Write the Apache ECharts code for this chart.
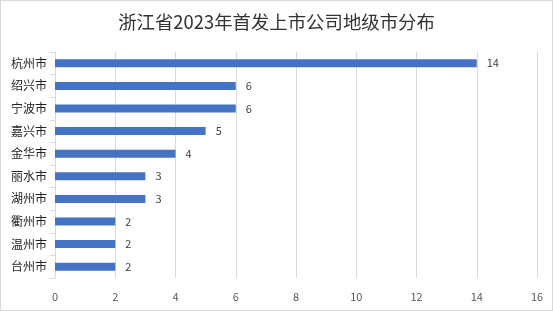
<!DOCTYPE html>
<html>
<head>
<meta charset="utf-8">
<script src="https://cdn.jsdelivr.net/npm/echarts@6/dist/echarts.min.js"></script>
<style>
  html, body { margin: 0; padding: 0; background: #fff; }
  #chart { width: 551px; height: 309px; border: 1px solid #d9d9d9; }
</style>
</head>
<body>
<div id="chart"></div>
<script>
var cities = ['杭州市', '绍兴市', '宁波市', '嘉兴市', '金华市', '丽水市', '湖州市', '衢州市', '温州市', '台州市'];
var counts = [14, 6, 6, 5, 4, 3, 3, 2, 2, 2];
var xTicks = [0, 16, 2]; // min, max, interval

var chart = echarts.init(document.getElementById('chart'));
chart.setOption({
    animation: false,
    textStyle: { fontFamily: 'Noto Sans CJK SC' },
    title: {
        text: '浙江省2023年首发上市公司地级市分布',
        left: 'center',
        top: 7,
        textStyle: { fontSize: 18.4, fontWeight: 'normal', color: '#333', fontFamily: 'Noto Sans CJK SC' }
    },
    grid: { left: 54, right: 15, top: 51, bottom: 32, containLabel: false },
    xAxis: {
        type: 'value',
        min: xTicks[0],
        max: xTicks[1],
        interval: xTicks[2],
        axisLine: { show: false },
        axisTick: { show: false },
        axisLabel: { color: '#595959', fontSize: 11, margin: 13, fontFamily: 'Noto Sans CJK SC' },
        splitLine: { lineStyle: { color: '#d9d9d9', width: 1 } }
    },
    yAxis: {
        type: 'category',
        inverse: true,
        data: cities,
        axisLine: { lineStyle: { color: '#d9d9d9' } },
        axisTick: { show: true, length: 5, lineStyle: { color: '#d9d9d9' } },
        axisLabel: { color: '#222', fontSize: 12, margin: 8, fontFamily: 'Noto Sans CJK SC' }
    },
    series: [{
        type: 'bar',
        data: counts,
        barWidth: 8,
        itemStyle: { color: '#4472C4' },
        label: {
            show: true,
            position: 'right',
            distance: 10,
            color: '#404040',
            fontSize: 11
        }
    }]
});
</script>
</body>
</html>
